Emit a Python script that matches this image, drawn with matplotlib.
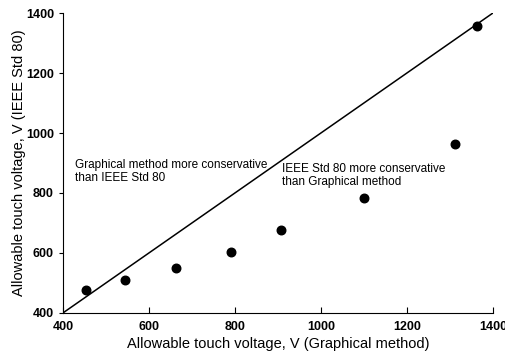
import matplotlib
matplotlib.use("Agg")
import matplotlib.pyplot as plt

# data
graphical = [453, 544, 663, 791, 907, 1100, 1312, 1363]
ieee = [477, 510, 550, 603, 677, 783, 963, 1357]
line_x = [400, 1400]
line_y = [400, 1400]
ticks = [400, 600, 800, 1000, 1200, 1400]

plt.rcParams['font.family'] = ['Liberation Sans', 'DejaVu Sans']

fig = plt.figure(figsize=(5.06, 3.63), dpi=100)
ax = fig.add_axes([0.1245, 0.138, 0.8495, 0.826])

ax.plot(line_x, line_y, color='black', linewidth=1.1)
ax.scatter(graphical, ieee, s=38, color='black', zorder=3)

ax.set_xlim(400, 1400)
ax.set_ylim(400, 1400)
ax.set_xticks(ticks)
ax.set_yticks(ticks)
ax.spines['top'].set_visible(False)
ax.spines['right'].set_visible(False)
ax.tick_params(axis='x', direction='in', length=4, labelsize=9, pad=6)
ax.tick_params(axis='y', direction='out', length=3, labelsize=9)
for lab in ax.get_xticklabels() + ax.get_yticklabels():
    lab.set_fontweight('bold')

ax.set_xlabel('Allowable touch voltage, V (Graphical method)', fontsize=10.5, labelpad=3)
ax.set_ylabel('Allowable touch voltage, V (IEEE Std 80)', fontsize=10.5, labelpad=0)

ax.text(428, 873, 'Graphical method more conservative\nthan IEEE Std 80',
        fontsize=8.5, va='center', ha='left', linespacing=1.1)
ax.text(909, 857, 'IEEE Std 80 more conservative\nthan Graphical method',
        fontsize=8.5, va='center', ha='left', linespacing=1.1)

fig.savefig('out.png', dpi=100)
